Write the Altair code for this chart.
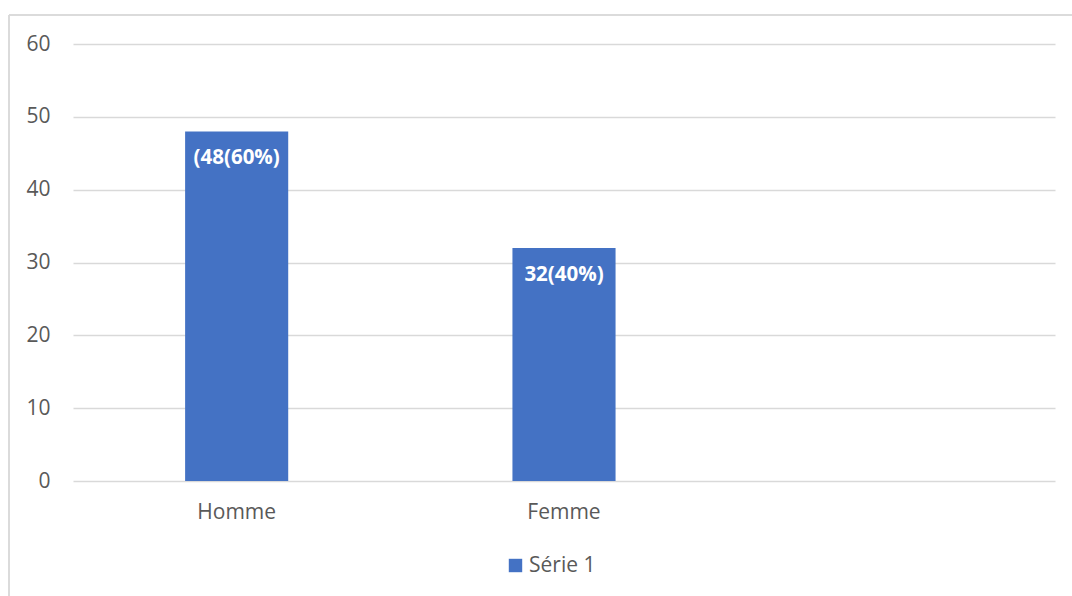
import altair as alt
import pandas as pd

# Categories on the x axis (the third slot is an empty category)
categories = ["Homme", "Femme", " "]
counts = [48, 32]
labels = ["(48(60%)", "32(40%)"]
series = ["Série 1", "Série 1"]

df = pd.DataFrame({
    "sexe": categories[:2],
    "effectif": counts,
    "label": labels,
    "serie": series,
})

FONT = "Open Sans"
GRAY = "#595959"
BLUE = "#4472C4"

x_enc = alt.X(
    "sexe:N",
    sort=categories,
    scale=alt.Scale(domain=categories, paddingInner=0.685, paddingOuter=0.3425),
    axis=alt.Axis(title=None, labelAngle=0, ticks=False, domain=False, grid=False,
                  labelPadding=20, labelFontSize=21, labelColor=GRAY, labelFont=FONT),
)
y_enc = alt.Y(
    "effectif:Q",
    scale=alt.Scale(domain=[0, 60]),
    axis=alt.Axis(title=None, values=[0, 10, 20, 30, 40, 50, 60], ticks=False, domain=False,
                  labelPadding=23, labelFontSize=21, labelColor=GRAY, labelFont=FONT,
                  gridColor="#D9D9D9", gridWidth=1.5),
)

bars = alt.Chart(df).mark_bar(color=BLUE).encode(
    x=x_enc,
    y=y_enc,
    color=alt.Color(
        "serie:N",
        scale=alt.Scale(range=[BLUE]),
        legend=alt.Legend(title=None, orient="none", legendX=432, legendY=511,
                          symbolType="square", symbolSize=180, symbolStrokeWidth=0,
                          labelFontSize=21, labelColor=GRAY, labelFont=FONT,
                          labelOffset=3),
    ),
)

text = alt.Chart(df).mark_text(
    color="white", fontWeight="bold", fontSize=20.5, font=FONT,
    baseline="top", dy=17,
).encode(x=x_enc, y=y_enc, text="label:N")

# Frame lines around the chart area
frame_top = alt.Chart(df).mark_rule(color="#D9D9D9", strokeWidth=1.5).encode(
    x=alt.value(-64), x2=alt.value(1000), y=alt.value(-29)
)
frame_left = alt.Chart(df).mark_rule(color="#D9D9D9", strokeWidth=1.5).encode(
    x=alt.value(-64), y=alt.value(-29), y2=alt.value(560)
)

chart = alt.layer(
    bars, text, frame_top, frame_left,
    view=alt.ViewBackground(stroke="transparent", strokeWidth=0),
).properties(
    width=982,
    height=437,
    padding={"left": 73, "top": 44, "right": 17, "bottom": 115},
    autosize=alt.AutoSizeParams(type="none"),
).configure_view(stroke="transparent", strokeWidth=0).configure(background="white")

chart.save("out.html", embed_options={"renderer": "svg", "actions": False})
